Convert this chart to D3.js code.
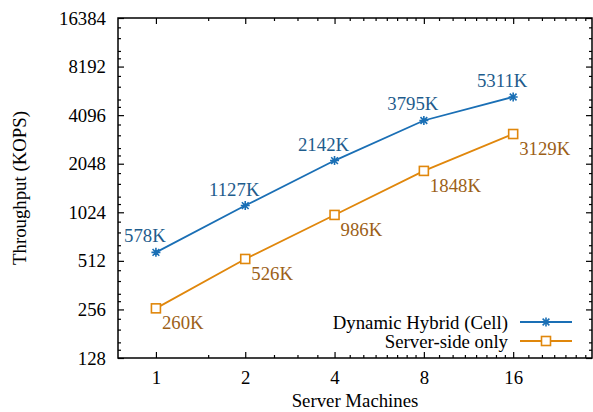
<!DOCTYPE html>
<html>
<head>
<meta charset="utf-8">
<script src="https://cdn.jsdelivr.net/npm/d3@7"></script>
<style>
  body { margin: 0; background: #fff; }
  text { font-family: "Liberation Serif", "Times New Roman", serif; }
</style>
</head>
<body>
<div id="chart"></div>
<script>
// x categories (number of server machines)
var machines = [1, 2, 4, 8, 16];
// throughput in KOPS for each series
var hybridValues = [578, 1127, 2142, 3795, 5311];
var serverValues = [260, 526, 986, 1848, 3129];
// tick labels
var yTicks = [128, 256, 512, 1024, 2048, 4096, 8192, 16384];
var yMinorFactors = [1.125, 1.25, 1.5, 1.75];
var xMinorTicks = [1.5, 2.5, 3, 3.5, 4.5, 5, 5.5, 6, 6.5, 7, 7.5, 9, 10, 11, 12, 13, 14, 15, 18, 20, 22, 24, 26, 28];
var seriesNames = ["Dynamic Hybrid (Cell)", "Server-side only"];

var svgWidth = 593;
var svgHeight = 412;
var fontSize = "18.8px";

// chart margins
var margin = { top: 18, right: 1, bottom: 54, left: 118 };
var chartWidth = svgWidth - margin.left - margin.right;
var chartHeight = svgHeight - margin.top - margin.bottom;

var blue = "#1a6fb5", blueText = "#1e5c8c";
var orange = "#e0870c", orangeText = "#9c5f18";

var svg = d3.select("#chart").append("svg")
  .attr("width", svgWidth)
  .attr("height", svgHeight);

var chartGroup = svg.append("g")
  .attr("transform", `translate(${margin.left}, ${margin.top})`);

// log base 2 scales on both axes
var xScale = d3.scaleLog().base(2)
  .domain([0.745, 29.5])
  .range([0, chartWidth]);

var yScale = d3.scaleLog().base(2)
  .domain([128, 16384])
  .range([chartHeight, 0]);

// minor y ticks
var yMinor = [];
yTicks.slice(0, -1).forEach(function(t) {
  yMinorFactors.forEach(function(f) { yMinor.push(t * f); });
});

function styleAxis(g) {
  g.select(".domain").remove();
  g.selectAll("line").attr("stroke", "#000").attr("stroke-width", 1.2);
  g.selectAll("text").attr("font-size", fontSize).attr("fill", "#000")
    .attr("font-family", "Liberation Serif, Times New Roman, serif");
}

// left axis, ticks pointing inwards
chartGroup.append("g")
  .call(d3.axisLeft(yScale).tickValues(yTicks).tickFormat(d3.format("d"))
    .tickSizeInner(-6).tickSizeOuter(0).tickPadding(12))
  .call(styleAxis);

chartGroup.append("g")
  .call(d3.axisLeft(yScale).tickValues(yMinor).tickFormat("").tickSize(-3))
  .call(styleAxis);

// right mirror axis
chartGroup.append("g")
  .attr("transform", `translate(${chartWidth}, 0)`)
  .call(d3.axisRight(yScale).tickValues(yTicks).tickFormat("").tickSize(-6))
  .call(styleAxis);

chartGroup.append("g")
  .attr("transform", `translate(${chartWidth}, 0)`)
  .call(d3.axisRight(yScale).tickValues(yMinor).tickFormat("").tickSize(-3))
  .call(styleAxis);

// bottom axis
chartGroup.append("g")
  .attr("transform", `translate(0, ${chartHeight})`)
  .call(d3.axisBottom(xScale).tickValues(machines).tickFormat(d3.format("d"))
    .tickSizeInner(-6).tickSizeOuter(0).tickPadding(13))
  .call(styleAxis);

chartGroup.append("g")
  .attr("transform", `translate(0, ${chartHeight})`)
  .call(d3.axisBottom(xScale).tickValues(xMinorTicks).tickFormat("").tickSize(-3))
  .call(styleAxis);

// top mirror axis
chartGroup.append("g")
  .call(d3.axisTop(xScale).tickValues(machines).tickFormat("").tickSize(-6))
  .call(styleAxis);

chartGroup.append("g")
  .call(d3.axisTop(xScale).tickValues(xMinorTicks).tickFormat("").tickSize(-3))
  .call(styleAxis);

// plot border
chartGroup.append("rect")
  .attr("width", chartWidth)
  .attr("height", chartHeight)
  .attr("fill", "none")
  .attr("stroke", "#000")
  .attr("stroke-width", 1.5);

var line = d3.line()
  .x(function(d) { return xScale(d[0]); })
  .y(function(d) { return yScale(d[1]); });

var hybrid = d3.zip(machines, hybridValues);
var server = d3.zip(machines, serverValues);

// star marker (gnuplot style asterisk)
function drawStar(g, cx, cy, color) {
  var s = 4.5;
  g.append("path")
    .attr("d", `M${cx - s},${cy}H${cx + s}M${cx},${cy - s}V${cy + s}` +
      `M${cx - s * 0.75},${cy - s * 0.75}L${cx + s * 0.75},${cy + s * 0.75}` +
      `M${cx - s * 0.75},${cy + s * 0.75}L${cx + s * 0.75},${cy - s * 0.75}`)
    .attr("stroke", color)
    .attr("stroke-width", 1.6)
    .attr("fill", "none");
}

function drawSquare(g, cx, cy, color) {
  g.append("rect")
    .attr("x", cx - 4.5)
    .attr("y", cy - 4.5)
    .attr("width", 9)
    .attr("height", 9)
    .attr("fill", "#fff")
    .attr("stroke", color)
    .attr("stroke-width", 1.6);
}

// lines
chartGroup.append("path")
  .datum(hybrid)
  .attr("d", line)
  .attr("fill", "none")
  .attr("stroke", blue)
  .attr("stroke-width", 1.8);

chartGroup.append("path")
  .datum(server)
  .attr("d", line)
  .attr("fill", "none")
  .attr("stroke", orange)
  .attr("stroke-width", 1.8);

// markers
hybrid.forEach(function(d) {
  drawStar(chartGroup, xScale(d[0]), yScale(d[1]), blue);
});
server.forEach(function(d) {
  drawSquare(chartGroup, xScale(d[0]), yScale(d[1]), orange);
});

// value labels
chartGroup.selectAll(".hlabel")
  .data(hybrid)
  .enter()
  .append("text")
  .attr("class", "hlabel")
  .attr("x", d => xScale(d[0]) - 11)
  .attr("y", d => yScale(d[1]) - 10)
  .attr("text-anchor", "middle")
  .attr("font-size", fontSize)
  .attr("fill", blueText)
  .text(d => d[1] + "K");

chartGroup.selectAll(".slabel")
  .data(server)
  .enter()
  .append("text")
  .attr("class", "slabel")
  .attr("x", d => xScale(d[0]) + 6)
  .attr("y", d => yScale(d[1]) + 21)
  .attr("text-anchor", "start")
  .attr("font-size", fontSize)
  .attr("fill", orangeText)
  .text(d => d[1] + "K");

// legend
var legend = chartGroup.append("g")
  .attr("transform", `translate(${390}, ${304})`);

var legendColors = [blue, orange];
seriesNames.forEach(function(name, i) {
  var y = i * 19;
  legend.append("text")
    .attr("x", 0)
    .attr("y", y)
    .attr("dy", "0.35em")
    .attr("text-anchor", "end")
    .attr("font-size", fontSize)
    .attr("fill", "#000")
    .text(name);
  legend.append("line")
    .attr("x1", 12)
    .attr("x2", 64)
    .attr("y1", y)
    .attr("y2", y)
    .attr("stroke", legendColors[i])
    .attr("stroke-width", 1.8);
  if (i === 0) drawStar(legend, 38, y, blue);
  else drawSquare(legend, 38, y, orange);
});

// y axis title
chartGroup.append("text")
  .attr("transform", "rotate(-90)")
  .attr("x", 0 - (chartHeight / 2))
  .attr("y", 26 - margin.left)
  .attr("text-anchor", "middle")
  .attr("font-size", fontSize)
  .text("Throughput (KOPS)");

// x axis title
chartGroup.append("text")
  .attr("transform", `translate(${chartWidth / 2}, ${chartHeight + 49})`)
  .attr("text-anchor", "middle")
  .attr("font-size", fontSize)
  .text("Server Machines");
</script>
</body>
</html>
